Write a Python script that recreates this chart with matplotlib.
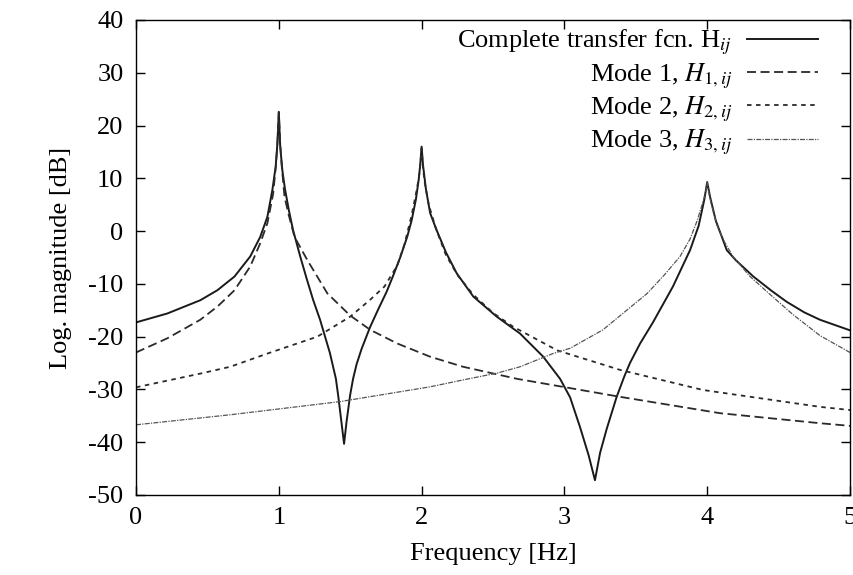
import numpy as np
from matplotlib import pyplot as plt

# valores (frequencia em Hz, magnitude em dB)
freq_total = [0.0, 0.22, 0.45, 0.57, 0.69, 0.80, 0.87, 0.92, 0.955, 0.978,
              0.99, 1.0, 1.01, 1.025, 1.043, 1.07, 1.10, 1.15, 1.195, 1.24,
              1.289, 1.358, 1.40, 1.417, 1.44, 1.457, 1.475, 1.50, 1.52,
              1.545, 1.58, 1.639, 1.70, 1.755, 1.80, 1.85, 1.90, 1.93, 1.96,
              1.98, 1.99, 2.0, 2.01, 2.03, 2.06, 2.105, 2.17, 2.246, 2.362,
              2.526, 2.689, 2.852, 2.97, 3.04, 3.109, 3.17, 3.214, 3.25,
              3.296, 3.366, 3.42, 3.459, 3.53, 3.62, 3.76, 3.88, 3.94, 3.98,
              4.0, 4.02, 4.06, 4.137, 4.2, 4.323, 4.45, 4.557, 4.68, 4.79,
              5.0]
mag_total = [-17.3, -15.6, -13.1, -11.2, -8.6, -4.8, -1.1, 2.7, 7.8, 12.2,
             16.5, 22.6, 16.0, 11.5, 8.0, 4.0, 0.2, -4.8, -9.0, -13.0,
             -16.8, -23.1, -28.0, -31.4, -36.5, -40.3, -36.0, -31.0, -28.0,
             -25.2, -22.3, -18.2, -14.6, -11.5, -8.5, -5.0, -1.0, 2.0, 6.0,
             9.8, 12.5, 16.0, 12.5, 8.0, 3.4, 0.2, -4.0, -8.0, -12.4,
             -16.2, -19.4, -23.8, -28.0, -31.5, -37.1, -42.5, -47.2, -42.0,
             -37.5, -31.4, -27.5, -25.0, -21.3, -17.3, -10.5, -3.6, 1.0, 6.0,
             9.3, 6.5, 2.0, -3.6, -5.5, -8.6, -11.3, -13.4, -15.4, -16.8,
             -18.8]

freq_mode1 = [0.0, 0.22, 0.45, 0.57, 0.69, 0.80, 0.87, 0.92, 0.96, 0.98,
              0.99, 1.0, 1.01, 1.02, 1.04, 1.07, 1.11, 1.20, 1.34, 1.50,
              1.64, 1.83, 2.06, 2.29, 2.67, 3.39, 4.09, 4.79, 5.0]
mag_mode1 = [-23.0, -20.3, -16.8, -14.3, -11.2, -6.7, -2.3, 1.5, 7.0, 12.5,
             16.5, 22.5, 16.5, 12.5, 6.5, 3.0, -1.1, -5.5, -11.8, -16.0,
             -18.7, -21.3, -23.8, -25.7, -28.0, -31.4, -34.5, -36.4, -36.9]

freq_mode2 = [0.0, 0.45, 0.66, 0.92, 1.27, 1.50, 1.64, 1.74, 1.83, 1.88,
              1.93, 1.96, 1.98, 1.99, 2.0, 2.01, 2.02, 2.05, 2.10, 2.17,
              2.25, 2.36, 2.50, 2.64, 2.95, 3.39, 3.97, 4.79, 5.0]
mag_mode2 = [-29.6, -27.0, -25.7, -23.2, -20.0, -16.2, -13.0, -10.5, -6.5,
             -2.5, 3.0, 7.0, 10.0, 12.3, 15.7, 12.0, 9.5, 5.0, 0.5, -4.5,
             -8.3, -12.0, -15.5, -18.1, -22.6, -26.3, -30.1, -33.3, -33.9]

freq_mode3 = [0.0, 0.66, 1.43, 2.06, 2.29, 2.53, 2.69, 2.92, 3.04, 3.27,
              3.58, 3.70, 3.81, 3.88, 3.93, 3.97, 3.99, 4.0, 4.01, 4.03,
              4.07, 4.12, 4.18, 4.30, 4.44, 4.60, 4.79, 5.0]
mag_mode3 = [-36.7, -34.8, -32.3, -29.5, -28.2, -26.9, -25.7, -23.2, -22.2,
             -18.7, -11.8, -8.3, -4.8, -1.5, 2.0, 5.5, 7.5, 9.2, 7.5, 5.0,
             1.0, -2.0, -4.8, -8.6, -12.0, -15.8, -19.8, -23.0]

labels = [
    r"Complete transfer fcn. H$_{ij}$",
    r"Mode 1, $H_{1,ij}$",
    r"Mode 2, $H_{2,ij}$",
    r"Mode 3, $H_{3,ij}$",
]
xticks = [0, 1, 2, 3, 4, 5]
yticks = [40, 30, 20, 10, 0, -10, -20, -30, -40, -50]

params = {
    'font': {'family': 'serif', 'serif': ['Liberation Serif'], 'size': 19},
    'mathtext': {'fontset': 'stix'},
    'axes': {'unicode_minus': False, 'linewidth': 1.0},
    'xtick': {'direction': 'in', 'top': True, 'major.size': 6.5,
              'major.width': 1.0, 'major.pad': 9},
    'ytick': {'direction': 'in', 'right': True, 'major.size': 6.5,
              'major.width': 1.0, 'major.pad': 9},
}
for group, options in params.items():
    plt.rc(group, **options)

fig = plt.figure(figsize=(8.54, 5.75), dpi=100)
ax = fig.add_axes([136 / 854, 80 / 575, 714 / 854, 475 / 575])

ax.plot(freq_total, mag_total, '-', color='#1a1a1a', lw=1.4, label=labels[0])
ax.plot(freq_mode1, mag_mode1, color='#2a2a2a', lw=1.3,
        dashes=(5, 2.5), label=labels[1])
ax.plot(freq_mode2, mag_mode2, color='#2a2a2a', lw=1.3,
        dashes=(2.5, 2.5), label=labels[2])
ax.plot(freq_mode3, mag_mode3, color='#555555', lw=0.9,
        dashes=(4, 1, 1, 1), label=labels[3])

ax.set_xlim(0, 5)
ax.set_ylim(-50, 40)
ax.set_xticks(xticks)
ax.set_yticks(yticks)
ax.set_xlabel("Frequency [Hz]", labelpad=10)
ax.set_ylabel("Log. magnitude [dB]", labelpad=12)

# legenda estilo gnuplot: texto a direita, amostras depois
ax.legend(loc='upper right', bbox_to_anchor=(818 / 854, 1 - 28 / 575),
          bbox_transform=fig.transFigure, frameon=False, markerfirst=False,
          handlelength=2.7, handletextpad=0.55, labelspacing=0.15,
          borderpad=0, borderaxespad=0)

plt.savefig("out.png", dpi=100)
